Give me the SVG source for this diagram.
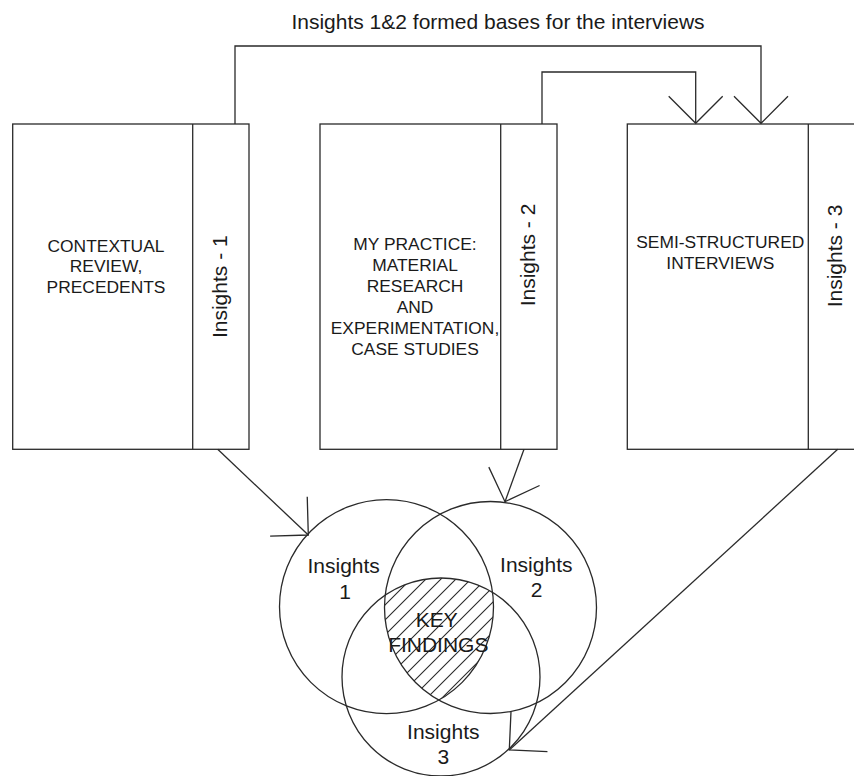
<svg xmlns="http://www.w3.org/2000/svg" width="854" height="776" viewBox="0 0 854 776">
  <style>
    .ln { fill: none; stroke: #2a2a2a; stroke-width: 1.3; }
    .box { fill: #ffffff; stroke: #2a2a2a; stroke-width: 1.3; }
    .t { font-family: "Liberation Sans", Arial, sans-serif; fill: #1a1a1a; text-anchor: middle; }
    .bt { font-size: 17.4px; }
    .vt { font-size: 21px; }
    .ct { font-size: 21px; }
  </style>
  <defs>
    <!-- open V arrowhead, arms ~38px at 45 degrees -->
    <marker id="vee" markerUnits="userSpaceOnUse" orient="auto" markerWidth="60" markerHeight="60" viewBox="0 0 60 60" refX="30" refY="30" overflow="visible">
      <path d="M3,3 L30,30 L3,57" fill="none" stroke="#2a2a2a" stroke-width="1.3"/>
    </marker>
    <pattern id="hatch" patternUnits="userSpaceOnUse" width="15" height="15">
      <path d="M0,15 L15,0 M-4,4 L4,-4 M11,19 L19,11" stroke="#2a2a2a" stroke-width="1.1"/>
    </pattern>
    <clipPath id="c1"><circle cx="386.5" cy="606.7" r="107"/></clipPath>
    <clipPath id="c2"><circle cx="490.5" cy="607.5" r="106"/></clipPath>
    <clipPath id="c3"><circle cx="441" cy="677" r="99"/></clipPath>
  </defs>
  <rect width="854" height="776" fill="#ffffff"/>

  <text class="t" x="498" y="29" font-size="21">Insights 1&amp;2 formed bases for the interviews</text>

  <g id="contextual-review">
    <rect class="box" x="12.7" y="124" width="236.3" height="325.3"/>
    <line class="ln" x1="192.7" y1="124" x2="192.7" y2="449.3"/>
    <text class="t bt" x="106" y="251.7">CONTEXTUAL</text>
    <text class="t bt" x="106" y="272.4">REVIEW,</text>
    <text class="t bt" x="106" y="292.7">PRECEDENTS</text>
    <text class="t vt" transform="translate(227,286.7) rotate(-90)">Insights - 1</text>
  </g>

  <g id="my-practice">
    <rect class="box" x="320" y="124" width="237" height="325.3"/>
    <line class="ln" x1="500.7" y1="124" x2="500.7" y2="449.3"/>
    <text class="t bt" x="415" y="250">MY PRACTICE:</text>
    <text class="t bt" x="415" y="271">MATERIAL</text>
    <text class="t bt" x="415" y="292">RESEARCH</text>
    <text class="t bt" x="415" y="313">AND</text>
    <text class="t bt" x="415" y="334">EXPERIMENTATION,</text>
    <text class="t bt" x="415" y="355">CASE STUDIES</text>
    <text class="t vt" transform="translate(535,255) rotate(-90)">Insights - 2</text>
  </g>

  <g id="interviews">
    <rect class="box" x="627.3" y="124" width="245" height="325.3"/>
    <line class="ln" x1="808.3" y1="124" x2="808.3" y2="449.3"/>
    <text class="t bt" x="720.3" y="248.3">SEMI-STRUCTURED</text>
    <text class="t bt" x="720.3" y="269">INTERVIEWS</text>
    <text class="t vt" transform="translate(842,256) rotate(-90)">Insights - 3</text>
  </g>

  <g id="key-findings-hatch" clip-path="url(#c1)">
    <g clip-path="url(#c2)">
      <rect x="330" y="560" width="230" height="220" fill="url(#hatch)" clip-path="url(#c3)"/>
    </g>
  </g>

  <g id="insights-1">
    <circle class="ln" cx="386.5" cy="606.7" r="107"/>
    <text class="t ct" x="343.7" y="572.7">Insights</text>
    <text class="t ct" x="345" y="599">1</text>
  </g>
  <g id="insights-2">
    <circle class="ln" cx="490.5" cy="607.5" r="106"/>
    <text class="t ct" x="536.3" y="571.7">Insights</text>
    <text class="t ct" x="536.7" y="597.3">2</text>
  </g>
  <g id="insights-3">
    <circle class="ln" cx="441" cy="677" r="99"/>
    <text class="t ct" x="443.3" y="739">Insights</text>
    <text class="t ct" x="443.3" y="764">3</text>
  </g>
  <g id="key-findings">
    <text class="t ct" x="436.7" y="626.7">KEY</text>
    <text class="t ct" x="438.3" y="652.3">FINDINGS</text>
  </g>

  <g id="connectors">
    <path class="ln" d="M235,124 V46 H761 V123.3" marker-end="url(#vee)"/>
    <path class="ln" d="M542,124 V72 H695.7 V123.3" marker-end="url(#vee)"/>
    <path class="ln" d="M217.7,449.3 L308.3,535" marker-end="url(#vee)"/>
    <path class="ln" d="M524,449.3 L505,501.7" marker-end="url(#vee)"/>
    <path class="ln" d="M837.7,449.3 L509.3,750" marker-end="url(#vee)"/>
  </g>
</svg>
